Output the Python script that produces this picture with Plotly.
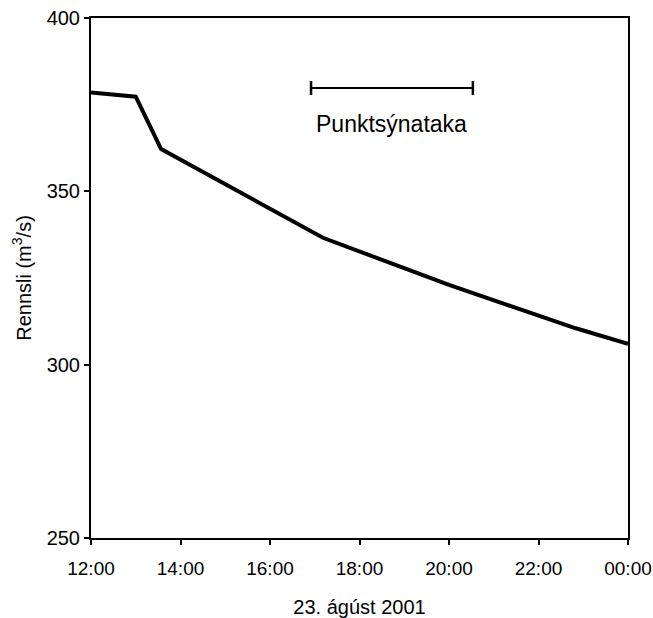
import plotly.graph_objects as go

# discharge series, 23 August 2001
times = [
    "2001-08-23 12:00", "2001-08-23 13:00", "2001-08-23 13:34",
    "2001-08-23 17:11", "2001-08-23 20:00", "2001-08-23 22:50",
    "2001-08-24 00:00",
]
discharge = [378.5, 377.3, 362.2, 336.6, 323.0, 310.5, 306.0]

# sampling period
sampling_times = ["2001-08-23 16:55", "2001-08-23 20:32"]
sampling_level = [379.8, 379.8]
sampling_label = "Punktsýnataka"

tick_times = [
    "2001-08-23 12:00", "2001-08-23 14:00", "2001-08-23 16:00",
    "2001-08-23 18:00", "2001-08-23 20:00", "2001-08-23 22:00",
    "2001-08-24 00:00",
]
tick_labels = ["12:00", "14:00", "16:00", "18:00", "20:00", "22:00", "00:00"]
y_ticks = [250, 300, 350, 400]

font = "Liberation Sans, Arial, sans-serif"

fig = go.Figure()

fig.add_trace(go.Scatter(
    x=times, y=discharge,
    mode="lines",
    line=dict(color="black", width=4),
    hoverinfo="skip",
))

fig.add_trace(go.Scatter(
    x=sampling_times, y=sampling_level,
    mode="lines+markers",
    line=dict(color="black", width=2),
    marker=dict(symbol="line-ns", size=10, line=dict(color="black", width=2.5)),
    hoverinfo="skip",
))

fig.add_annotation(
    x="2001-08-23 18:43", y=sampling_level[0],
    text=sampling_label,
    showarrow=False,
    yshift=-36,
    font=dict(family=font, size=23, color="black"),
)

fig.update_layout(
    width=653, height=618,
    margin=dict(l=91, r=25, t=18, b=80),
    paper_bgcolor="white",
    plot_bgcolor="white",
    showlegend=False,
    font=dict(family=font, color="black"),
    xaxis=dict(
        type="date",
        range=["2001-08-23 12:00", "2001-08-24 00:00"],
        tickvals=tick_times,
        ticktext=tick_labels,
        ticks="outside", ticklen=5, tickwidth=1.5, tickcolor="black",
        showgrid=False, zeroline=False,
        showline=True, linecolor="black", linewidth=2, mirror=True,
        tickfont=dict(size=19),
        ticklabelstandoff=7,
        ticklabeloverflow="allow",
        automargin=False,
        title=dict(text="23. ágúst 2001", font=dict(size=20), standoff=22),
    ),
    yaxis=dict(
        range=[250, 400],
        tickvals=y_ticks,
        ticks="outside", ticklen=5, tickwidth=1.5, tickcolor="black",
        showgrid=False, zeroline=False,
        showline=True, linecolor="black", linewidth=2, mirror=True,
        tickfont=dict(size=20),
        ticklabeloverflow="allow",
        automargin=False,
        title=dict(text="Rennsli (m<sup>3</sup>/s)", font=dict(size=20), standoff=10),
    ),
)

# drop the default body margin so the figure fills the window exactly
fig.write_html(
    "out.html",
    config={"displayModeBar": False},
    post_script="document.body.style.margin = '0';",
)
